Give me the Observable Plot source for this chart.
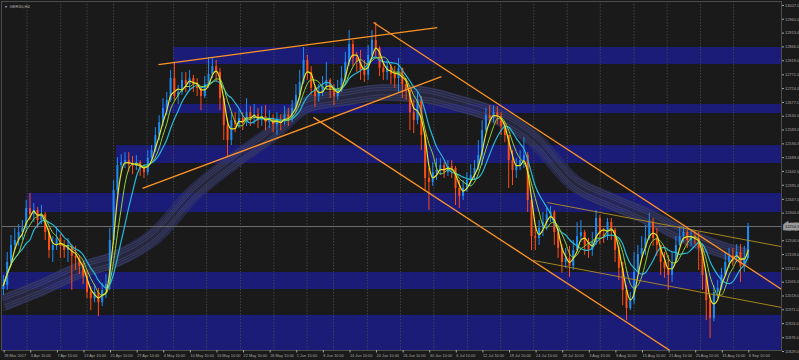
<!DOCTYPE html>
<html><head><meta charset="utf-8">
<script src="https://cdn.jsdelivr.net/npm/d3@7"></script>
<script src="https://cdn.jsdelivr.net/npm/@observablehq/plot@0.6"></script>
<style>html,body{margin:0;padding:0;background:#1a1a1a;overflow:hidden}</style>
</head><body><div id="chart"></div>
<script>
const title = "GER30,H4";
const firstOpen = 12040;
const closes = [
12054,12132,12190,12207,12234,12248,12316,12295,12309,12275,
12295,12234,12173,12190,12214,12187,12173,12187,12153,12146,
12119,12085,12030,12009,12030,11995,12037,12057,12207,12377,
12462,12472,12479,12465,12459,12472,12452,12438,12486,12513,
12564,12608,12656,12684,12758,12697,12711,12752,12738,12758,
12738,12725,12697,12738,12772,12799,12779,12690,12598,12547,
12615,12601,12622,12608,12642,12622,12635,12615,12629,12608,
12622,12601,12615,12608,12635,12622,12656,12701,12745,12820,
12779,12725,12697,12711,12731,12752,12718,12697,12718,12758,
12813,12874,12827,12813,12786,12769,12837,12888,12861,12793,
12779,12799,12772,12758,12793,12738,12718,12642,12615,12684,
12564,12418,12404,12438,12445,12462,12438,12459,12452,12384,
12357,12384,12411,12428,12452,12496,12581,12632,12622,12642,
12629,12595,12564,12479,12445,12462,12479,12496,12343,12220,
12214,12248,12268,12295,12302,12234,12180,12132,12146,12119,
12173,12220,12234,12190,12173,12200,12282,12227,12220,12268,
12241,12173,12112,12037,11975,12002,12098,12159,12180,12214,
12268,12214,12190,12132,12112,12088,12132,12190,12220,12234,
12207,12220,12214,12180,12088,12002,11941,12030,12044,12088,
12132,12153,12146,12166,12119,12146,12254.5];
const highs = [
12088,12166,12224,12248,12261,12275,12343,12367,12333,12319,
12326,12302,12248,12220,12251,12227,12207,12214,12193,12187,
12156,12132,12105,12050,12057,12044,12061,12091,12248,12411,
12489,12499,12506,12506,12493,12496,12479,12465,12513,12530,
12591,12632,12690,12711,12786,12810,12735,12779,12779,12786,
12769,12758,12731,12765,12830,12827,12820,12793,12697,12622,
12642,12642,12649,12642,12690,12663,12670,12656,12663,12666,
12649,12635,12642,12635,12663,12656,12684,12738,12786,12864,
12837,12799,12731,12738,12765,12813,12758,12738,12752,12799,
12847,12922,12888,12847,12854,12820,12871,12922,12949,12867,
12813,12820,12806,12799,12827,12772,12758,12718,12684,12711,
12697,12581,12452,12472,12486,12486,12472,12479,12479,12459,
12411,12411,12438,12465,12479,12547,12615,12656,12666,12666,
12663,12642,12608,12564,12513,12486,12513,12557,12506,12360,
12254,12275,12302,12316,12323,12309,12248,12193,12180,12187,
12207,12268,12275,12241,12214,12234,12309,12292,12248,12282,
12282,12248,12187,12132,12054,12030,12166,12190,12220,12258,
12299,12282,12248,12190,12166,12156,12166,12220,12248,12251,
12241,12241,12241,12234,12190,12095,12020,12054,12071,12112,
12166,12180,12180,12193,12193,12187,12265];
const lows = [
12020,12037,12119,12173,12187,12207,12234,12275,12268,12248,
12261,12207,12146,12132,12173,12146,12146,12132,12037,12105,
12091,12057,12009,11968,11995,11948,11982,12009,12037,12193,
12363,12438,12452,12438,12431,12445,12425,12418,12428,12479,
12506,12547,12595,12632,12677,12684,12670,12701,12711,12718,
12711,12697,12649,12690,12725,12758,12745,12649,12547,12493,
12530,12574,12588,12581,12595,12595,12601,12588,12595,12581,
12588,12574,12564,12581,12598,12595,12608,12642,12684,12738,
12752,12701,12660,12677,12697,12718,12690,12666,12684,12711,
12738,12800,12799,12779,12752,12745,12752,12833,12833,12765,
12752,12752,12738,12725,12711,12690,12684,12581,12571,12601,
12513,12377,12309,12391,12411,12428,12418,12425,12418,12326,
12316,12343,12370,12391,12411,12445,12462,12575,12601,12608,
12601,12564,12540,12384,12394,12418,12445,12452,12302,12173,
12173,12190,12220,12241,12268,12190,12146,12095,12112,12081,
12105,12173,12200,12156,12146,12153,12190,12193,12197,12207,
12207,12132,12071,11985,11934,11968,11989,12098,12146,12156,
12207,12187,12153,12088,12078,12037,12064,12146,12187,12200,
12180,12187,12193,12105,12037,11934,11873,11930,12009,12037,
12091,12112,12119,12132,12064,12098,12146];

const xTickIdx = [0,7,14,21,28,35,42,49,56,63,70,77,84,91,98,105,112,119,126,133,140,147,154,161,168,175,182,189,196];
const xTickLabels = ["28 Mar 2017","3 Apr 10:00","7 Apr 10:00","13 Apr 10:00","21 Apr 10:00","27 Apr 10:00","4 May 10:00","10 May 10:00","16 May 10:00","22 May 10:00","26 May 10:00","1 Jun 10:00","8 Jun 10:00","14 Jun 10:00","20 Jun 10:00","26 Jun 10:00","30 Jun 10:00","6 Jul 10:00","12 Jul 10:00","18 Jul 10:00","24 Jul 10:00","28 Jul 10:00","3 Aug 10:00","9 Aug 10:00","15 Aug 10:00","21 Aug 10:00","25 Aug 10:00","31 Aug 10:00","6 Sep 10:00"];
const yTicks = [13007,12960,12913,12866,12819,12771,12724,12677,12630,12583,12536,12489,12442,12395,12347,12300,12206,12159,12112,12065,12018,11971,11924,11876,11829];
const lastPrice = 12254.5;
const weekIdx = [6.2,15.1,22.0,29.0,37.8,44.8,53.5,62.4,71.2,79.9,86.9,95.8,104.5,113.3,122.2,130.9,139.6,148.4,157.1,166.0,174.7,183.5,192.2];

const ribbonIdx = [0,10,20,30,40,50,60,70,80,90,100,110,120,130,140,150,160,170,180,190,196];
const ribbonVals = [11995,12047,12105,12146,12224,12367,12472,12564,12670,12694,12711,12704,12673,12630,12547,12405,12340,12285,12220,12172,12150];

const zoneStart = [44.8,41.9,29.8,6.3,-0.5,-0.5];
const zoneTop = [12864,12670,12530,12367,12098,11952];
const zoneBottom = [12806,12639,12469,12302,12040,11820];

const trendX1 = [40.8,36.6,97.4,81.6,143.2,139.5];
const trendP1 = [12806,12384,12949,12626,12336,12139];
const trendX2 = [114.2,115.3,204.8,176.3,204.8,204.8];
const trendP2 = [12932,12765,12041,11825,12186,11979];
const trendKind = ["channel","channel","channel","channel","triangle","triangle"];

const X_END = 204.8;
const bars = closes.map((c, i) => {
  const o = i === 0 ? firstOpen : closes[i - 1];
  return {i, o, c, h: Math.max(highs[i], o, c), l: Math.min(lows[i], o, c), up: c >= o};
});
const zones = zoneTop.map((t, i) => ({x1: zoneStart[i], x2: X_END, top: t, bottom: zoneBottom[i]}));
const ribbon = ribbonIdx.map((x, i) => ({x, y: ribbonVals[i]}));
const trends = trendX1.map((x1, i) => ({x1, y1: trendP1[i], x2: trendX2[i], y2: trendP2[i], kind: trendKind[i]}));

const UP = "#1e8cf5", DOWN = "#ff4d14";
const AX = "#a6a6a6";
const FS = 3.9;

const ribbonLines = [-7.5, -5, -2.5, -0.8, 0.8, 2.5, 5, 7.5].map((dy, k) =>
  Plot.line(ribbon, {x: "x", y: "y", curve: "monotone-x", dy, stroke: (k === 3 || k === 4) ? "#25252f" : "#4a4c68", strokeWidth: 0.55, clip: true}));

const maLine = (k, stroke, w) => Plot.lineY(closes, Plot.windowY({k, anchor: "end", reduce: "mean"}, {stroke, strokeWidth: w, curve: "monotone-x", clip: true}));

const chart = Plot.plot({
  width: 799, height: 360,
  marginLeft: 1, marginRight: 18, marginTop: 1, marginBottom: 10,
  style: {background: "#1a1a1a", color: AX, fontFamily: "'Liberation Sans', Arial, sans-serif", fontSize: FS + "px"},
  x: {domain: [-0.5, X_END]},
  y: {domain: [11832.4, 13020.6]},
  marks: [
    Plot.rect(zones, {x1: "x1", x2: "x2", y1: "bottom", y2: "top", fill: "#1b1b78", clip: true}),
    Plot.ruleX(weekIdx, {stroke: "#4e4e4e", strokeWidth: 0.8, strokeDasharray: "1.5,1.5"}),
    Plot.line(ribbon, {x: "x", y: "y", curve: "monotone-x", stroke: "#303468", strokeOpacity: 0.6, strokeWidth: 17, strokeLinecap: "butt", clip: true}),
    ...ribbonLines,
    Plot.ruleY([lastPrice], {stroke: "#6e6e6e", strokeWidth: 1}),
    Plot.ruleX(bars.filter(d => d.up), {x: "i", y1: "l", y2: "h", stroke: UP, strokeWidth: 1}),
    Plot.ruleX(bars.filter(d => !d.up), {x: "i", y1: "l", y2: "h", stroke: DOWN, strokeWidth: 1}),
    Plot.ruleX(bars.filter(d => d.up), {x: "i", y1: "o", y2: "c", stroke: UP, strokeWidth: 2}),
    Plot.ruleX(bars.filter(d => !d.up), {x: "i", y1: "o", y2: "c", stroke: DOWN, strokeWidth: 2}),
    maLine(8, "#27b8d8", 1.2),
    maLine(5, "#8fd43a", 1),
    maLine(3, "#e6e628", 1.2),
    Plot.link(trends.filter(d => d.kind === "triangle"), {x1: "x1", y1: "y1", x2: "x2", y2: "y2", stroke: "#b38f22", strokeWidth: 0.9, clip: true}),
    Plot.link(trends.filter(d => d.kind === "channel"), {x1: "x1", y1: "y1", x2: "x2", y2: "y2", stroke: "#ff9326", strokeWidth: 1.3, clip: true}),
    Plot.frame({stroke: "#4d4d4d", strokeWidth: 1}),
    Plot.axisY(yTicks, {anchor: "right", tickFormat: d => d.toFixed(1), tickSize: 2, tickPadding: 1.5, fontSize: FS, color: AX}),
    Plot.axisX(xTickIdx, {anchor: "bottom", tickFormat: d => xTickLabels[xTickIdx.indexOf(d)], textAnchor: "start", tickSize: 2.5, tickPadding: 1, dx: 0.8, fontSize: FS, color: AX}),
    Plot.text([lastPrice], {y: d => d, frameAnchor: "right", dx: 3.5, textAnchor: "start", text: d => d.toFixed(1), fill: "#111111", stroke: "#9a9a9a", strokeWidth: 4.5, strokeLinejoin: "miter", paintOrder: "stroke", fontSize: FS}),
    Plot.text([title], {frameAnchor: "top-left", dx: 8, dy: 4, lineAnchor: "top", textAnchor: "start", fill: "#b4b4b4", fontSize: 4.2}),
    Plot.text(["\u25BE"], {frameAnchor: "top-left", dx: 3, dy: 3.6, lineAnchor: "top", textAnchor: "start", fill: "#b4b4b4", fontSize: 4.2})
  ]
});
document.getElementById("chart").append(chart);
</script>
</body></html>
